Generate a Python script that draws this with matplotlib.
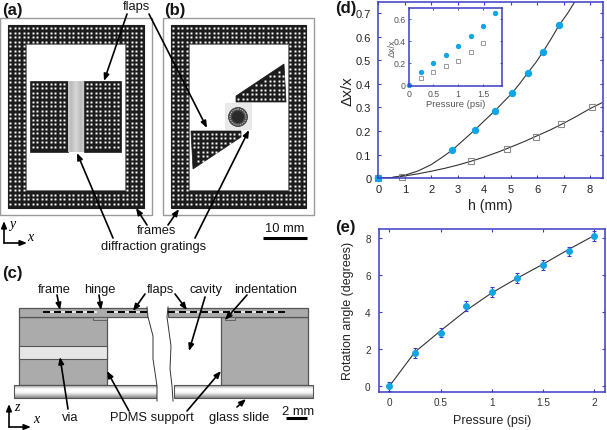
#Bibliotecas
import matplotlib
matplotlib.use('Agg')
import matplotlib.pyplot as plt
import numpy as np
from matplotlib.patches import Polygon, Rectangle, Circle
from matplotlib.path import Path

plt.rcParams['font.family'] = ['Liberation Sans', 'DejaVu Sans']

# panel (d) main plot
h_blue = [0, 2.8, 3.65, 4.4, 5.05, 5.65, 6.23, 6.83]
dx_blue = [0, 0.12, 0.205, 0.283, 0.36, 0.447, 0.537, 0.65]
h_gray = [0, 0.9, 3.5, 4.85, 5.95, 6.9, 8.08]
dx_gray = [0, 0.004, 0.072, 0.125, 0.177, 0.228, 0.30]
fit_blue_h = [0, 0.5, 1, 1.5, 2, 2.4, 2.8, 3.2, 3.65, 4, 4.4, 4.7, 5.05, 5.35, 5.65, 5.95, 6.23, 6.5, 6.83, 7.15, 7.45]
fit_blue_dx = [0, 0.003, 0.013, 0.031, 0.058, 0.088, 0.12, 0.16, 0.205, 0.243, 0.285, 0.32, 0.36, 0.402, 0.447, 0.49, 0.537, 0.585, 0.648, 0.698, 0.752]
fit_gray_h = [0, 0.5, 1, 1.5, 2, 2.5, 3, 3.5, 4, 4.5, 5, 5.5, 6, 6.5, 7, 7.5, 8, 8.45]
fit_gray_dx = [0, 0.003, 0.01, 0.019, 0.03, 0.042, 0.056, 0.072, 0.09, 0.11, 0.132, 0.155, 0.18, 0.205, 0.233, 0.263, 0.295, 0.32]

# panel (d) inset
p_blue = [0, 0.25, 0.5, 0.75, 1, 1.25, 1.5, 1.75]
inset_blue = [0, 0.115, 0.2, 0.275, 0.355, 0.44, 0.53, 0.65]
p_gray = [0.25, 0.5, 0.75, 1, 1.25, 1.5]
inset_gray = [0.06, 0.115, 0.17, 0.22, 0.295, 0.38]

# panel (e)
pressure = [0, 0.25, 0.5, 0.75, 1, 1.25, 1.5, 1.75, 2]
angle = [0, 1.8, 2.9, 4.35, 5.1, 5.85, 6.55, 7.3, 8.1]
angle_err = [0.25, 0.27, 0.25, 0.27, 0.25, 0.25, 0.25, 0.25, 0.27]
angle_fit = [0, 1.85, 3.0, 4.1, 5.05, 5.85, 6.6, 7.4, 8.15]

BLUE = '#10a5e5'
SPINE = '#3c3cc8'
GRAY = '#8a8a8a'
DARK = '#1c1c1c'
PDMS = '#ababab'

W, H = 607, 431
fig = plt.figure(figsize=(W / 100, H / 100), dpi=100)


def px_axes(left, top, right, bottom):
    ax = fig.add_axes([left / W, 1 - bottom / H, (right - left) / W, (bottom - top) / H])
    for s in ax.spines.values():
        s.set_color(SPINE)
        s.set_linewidth(1.1)
    ax.tick_params(which='both', direction='in', color=SPINE, top=True, right=True)
    return ax


# overlay in pixel coordinates for the schematics
sk = fig.add_axes([0, 0, 1, 1])
sk.set_xlim(0, W)
sk.set_ylim(H, 0)
sk.axis('off')


def arrow(x0, y0, x1, y1):
    sk.annotate('', xy=(x1, y1), xytext=(x0, y0),
                arrowprops=dict(arrowstyle='-|>,head_width=0.16,head_length=0.4', color='black',
                                lw=1.2, shrinkA=0, shrinkB=0))


def label(x, y, s, size=9.3, **kw):
    sk.text(x, y, s, ha=kw.pop('ha', 'center'), va='center', fontsize=size, color='#151515', **kw)


def dots(x0, x1, y0, y1, keep, phase=(10.0, 29.0)):
    xs = np.arange(phase[0] - 4.5 * 10, x1, 4.5)
    ys = np.arange(phase[1] - 4.5 * 10, y1, 4.5)
    X, Y = np.meshgrid(xs, ys)
    pts = np.column_stack([X.ravel(), Y.ravel()])
    pts = pts[(pts[:, 0] > x0) & (pts[:, 0] < x1) & (pts[:, 1] > y0) & (pts[:, 1] < y1)]
    pts = pts[keep(pts)]
    col = sk.scatter(pts[:, 0], pts[:, 1], s=2.0, marker='s', color='white', linewidths=0, zorder=3)
    col.set_snap(False)


def frame(x0, x1, y0, y1, ix0, ix1, iy0, iy1, phase):
    sk.add_patch(Rectangle((x0 - 8, y0 - 7), x1 - x0 + 16, y1 - y0 + 14, fc='white', ec='#9a9a9a', lw=1))
    sk.add_patch(Rectangle((x0, y0), x1 - x0, y1 - y0, fc=DARK, ec=DARK, lw=0.8, zorder=2))
    sk.add_patch(Rectangle((ix0, iy0), ix1 - ix0, iy1 - iy0, fc='white', ec='#777777', lw=0.6, zorder=2))

    def keep(p):
        inner = (p[:, 0] > ix0 - 1) & (p[:, 0] < ix1 + 1) & (p[:, 1] > iy0 - 1) & (p[:, 1] < iy1 + 1)
        return ~inner
    dots(x0 + 1, x1 - 1, y0 + 1, y1 - 1, keep, phase)


def flap(verts, phase=(10.0, 29.0)):
    sk.add_patch(Polygon(verts, closed=True, fc=DARK, ec=DARK, lw=0.5, zorder=2))
    path = Path(verts)
    v = np.array(verts)

    def keep(p):
        ok = np.ones(len(p), dtype=bool)
        for dx, dy in [(-1.5, 0), (1.5, 0), (0, -1.5), (0, 1.5)]:
            ok &= path.contains_points(p + [dx, dy])
        return ok
    dots(v[:, 0].min(), v[:, 0].max(), v[:, 1].min(), v[:, 1].max(), keep, phase)


# (a)
frame(8, 144, 26, 209, 26, 125, 45, 191, (10.0, 29.0))
flap([(30, 82), (68, 82), (68, 153), (30, 153)], (32.5, 84.5))
flap([(84, 82), (121, 82), (121, 153), (84, 153)], (86.5, 84.5))
sk.imshow(np.array([[0.78, 0.74, 0.80, 0.84, 0.80, 0.74, 0.78]]), extent=(68, 84, 153, 82), cmap='gray',
          vmin=0, vmax=1, aspect='auto', zorder=2, interpolation='bilinear')

# (b)
frame(171, 306, 26, 209, 189, 288, 45, 191, (173.0, 29.0))
flap([(236, 97), (284, 65), (286, 103), (236, 103)], (238.0, 68.0))
flap([(191, 132), (241, 132), (241, 138), (193, 170)], (193.5, 134.5))
sk.add_patch(Rectangle((225, 104), 27, 27, fc='#e9e9e9', ec='none', zorder=2))
sk.add_patch(Circle((238, 118), 9.5, fc='#4a4a4a', ec='#303030', lw=0.5, zorder=3))
sk.add_patch(Circle((238, 118), 8, fc='none', ec='#c8c8c8', lw=0.8, ls=(0, (1, 1)), zorder=3))
sk.add_patch(Circle((238, 118), 6, fc='#2a2a2a', ec='none', zorder=3))
sk.set_xlim(0, W)
sk.set_ylim(H, 0)

label(136, 7, 'flaps')
label(157, 231, 'frames')
label(154, 247, 'diffraction gratings')
label(285, 229, '10 mm')
sk.plot([263, 307], [239, 239], color='black', lw=2.2, solid_capstyle='butt')
label(2, 10, '(a)', size=12, ha='left', fontweight='bold')
label(164, 10, '(b)', size=12, ha='left', fontweight='bold')
label(2, 274, '(c)', size=12, ha='left', fontweight='bold')
label(335, 9, '(d)', size=12, ha='left', fontweight='bold')
label(335, 228, '(e)', size=12, ha='left', fontweight='bold')

arrow(127, 15, 104, 82)
arrow(149, 15, 207, 129)
arrow(113, 239, 77, 154)
arrow(195, 239, 249, 131)
arrow(147, 226, 136, 209)
arrow(168, 226, 179, 210)

# xy axes
arrow(4, 244, 4, 222)
arrow(4, 244, 27, 244)
sk.text(12, 225, 'y', fontsize=10, family='Liberation Serif', style='italic', ha='center', va='center')
sk.text(30, 238, 'x', fontsize=10, family='Liberation Serif', style='italic', ha='center', va='center')

# (c) layers
EDGE = '#555555'
sk.add_patch(Rectangle((19, 318), 88, 68, fc=PDMS, ec=EDGE, lw=0.9))
sk.add_patch(Rectangle((19, 347), 88, 12.5, fc='#e6e6e6', ec=EDGE, lw=0.8))
sk.add_patch(Rectangle((221, 318), 87, 68, fc=PDMS, ec=EDGE, lw=0.9))
sk.add_patch(Rectangle((19, 309), 129, 9, fc=PDMS, ec=EDGE, lw=0.9))
sk.add_patch(Rectangle((168, 309), 140, 9, fc=PDMS, ec=EDGE, lw=0.9))
sk.add_patch(Rectangle((93, 318), 14, 3, fc=PDMS, ec=EDGE, lw=0.6))
sk.add_patch(Rectangle((225, 318), 10, 3, fc=PDMS, ec=EDGE, lw=0.6))

glass = np.array([0.55, 0.8, 0.95, 1, 1, 0.97, 0.9, 0.8, 0.68, 0.55]).reshape(-1, 1)
sk.imshow(glass, extent=(14, 157, 399, 386), cmap='gray', vmin=0, vmax=1, aspect='auto', zorder=1.5)
sk.imshow(glass, extent=(174, 313, 399, 386), cmap='gray', vmin=0, vmax=1, aspect='auto', zorder=1.5)
sk.add_patch(Rectangle((14, 386), 143, 13, fc='none', ec=EDGE, lw=0.8, zorder=1.6))
sk.add_patch(Rectangle((174, 386), 139, 13, fc='none', ec=EDGE, lw=0.8, zorder=1.6))
sk.set_xlim(0, W)
sk.set_ylim(H, 0)

# break lines and white gap
gap_l = [(147, 308), (148, 318), (153, 337), (153, 360), (157, 387), (157, 402)]
gap_r = [(168, 308), (167, 318), (171, 347), (170, 370), (172, 387), (173, 402)]
sk.add_patch(Polygon(gap_l + gap_r[::-1], closed=True, fc='white', ec='none', zorder=1.8))
sk.plot(*zip(*gap_l), color='#333333', lw=0.7, zorder=1.9)
sk.plot(*zip(*gap_r), color='#333333', lw=0.7, zorder=1.9)

# gratings inside the membrane
for start, stop in [(43, 97), (107, 147), (168, 285)]:
    for x in np.arange(start, stop, 11):
        sk.plot([x, min(x + 11, stop)], [313, 313], color='#e8e8e8', lw=1.4, solid_capstyle='butt', zorder=2)
        sk.plot([x, min(x + 7, stop)], [313, 313], color='black', lw=1.4, solid_capstyle='butt', zorder=2.1)

label(54, 290.5, 'frame')
label(100, 290.5, 'hinge')
label(160, 290.5, 'flaps')
label(206, 290, 'cavity')
label(266, 290.5, 'indentation')
label(70, 418, 'via')
label(152, 418, 'PDMS support')
label(239, 418, 'glass slide')
label(298, 412, '2 mm')
sk.plot([286, 307], [419, 419], color='black', lw=2.2, solid_capstyle='butt')

arrow(57, 296, 60, 311)
arrow(99, 296, 101, 311)
arrow(145, 295, 133, 312)
arrow(175, 295, 187, 311)
arrow(205, 298, 189, 352)
arrow(247, 296, 225, 321)
arrow(68, 410, 60, 358)
arrow(129, 412, 107, 372)
arrow(187, 412, 221, 372)
arrow(237, 408, 246, 400)

arrow(9, 428, 9, 405)
arrow(9, 428, 31, 428)
sk.text(17, 408, 'z', fontsize=10, family='Liberation Serif', style='italic', ha='center', va='center')
sk.text(36, 420, 'x', fontsize=10, family='Liberation Serif', style='italic', ha='center', va='center')

# (d) main
ax_d = px_axes(378.3, 2.7, 602.7, 179.3)
ax_d.plot(fit_blue_h, fit_blue_dx, color='#333333', lw=0.8)
ax_d.plot(fit_gray_h, fit_gray_dx, color='#333333', lw=0.8)
ax_d.plot(h_gray, dx_gray, ls='none', marker='s', ms=4.5, mfc='none', mec=GRAY, mew=0.8, clip_on=False)
ax_d.plot(h_blue, dx_blue, ls='none', marker='o', ms=4.3, color=BLUE, clip_on=False)
ax_d.set_xlim(0, 8.48)
ax_d.set_ylim(0, 0.748)
ax_d.set_xticks(range(9))
ax_d.set_yticks([0, 0.1, 0.2, 0.3, 0.4, 0.5, 0.6, 0.7])
ax_d.set_yticklabels(['0', '0.1', '0.2', '0.3', '0.4', '0.5', '0.6', '0.7'])
ax_d.tick_params(labelsize=8, length=2.5, width=0.8, labelcolor='#222222', pad=5)
ax_d.tick_params(axis='x', pad=4)
ax_d.set_xlabel('h (mm)', fontsize=10.2, labelpad=3, color='#222222')
ax_d.set_ylabel('\u0394x/x', fontsize=11, labelpad=1, color='#222222')

# (d) inset
ax_i = px_axes(408.7, 9, 502.3, 87.3)
ax_i.plot(p_gray, inset_gray, ls='none', marker='s', ms=2.8, mfc='none', mec=GRAY, mew=0.6)
ax_i.plot(p_blue, inset_blue, ls='none', marker='o', ms=2.8, color=BLUE, clip_on=False)
ax_i.set_xlim(0, 1.89)
ax_i.set_ylim(-0.012, 0.696)
ax_i.set_xticks([0, 0.5, 1, 1.5])
ax_i.set_xticklabels(['0', '0.5', '1', '1.5'])
ax_i.set_yticks([0, 0.2, 0.4, 0.6])
ax_i.set_yticklabels(['0', '0.2', '0.4', '0.6'])
ax_i.tick_params(labelsize=6.3, length=1.5, width=0.6, labelcolor='#555555', pad=2)
ax_i.set_xlabel('Pressure (psi)', fontsize=6.8, labelpad=1, color='#555555')
ax_i.set_ylabel('\u0394x/x', fontsize=6.5, labelpad=-2, color='#555555')

# (e)
ax_e = px_axes(379, 230, 605, 392.7)
ax_e.plot(pressure, angle_fit, color='#333333', lw=0.8)
ax_e.errorbar(pressure, angle, yerr=angle_err, ls='none', marker='o', ms=4, color=BLUE,
              ecolor=SPINE, elinewidth=0.8, capsize=1.5, capthick=0.8)
ax_e.set_xlim(-0.1, 2.104)
ax_e.set_ylim(-0.29, 8.5)
ax_e.set_xticks([0, 0.5, 1, 1.5, 2])
ax_e.set_xticklabels(['0', '0.5', '1', '1.5', '2'])
ax_e.set_yticks([0, 2, 4, 6, 8])
ax_e.tick_params(labelsize=7.2, length=2.5, width=0.8, labelcolor='#333333', pad=6)
ax_e.tick_params(axis='x', pad=4)
ax_e.set_xlabel('Pressure (psi)', fontsize=9, labelpad=5, color='#222222')
ax_e.set_ylabel('Rotation angle (degrees)', fontsize=9, labelpad=8, color='#222222')

fig.savefig('out.png', dpi=100)
